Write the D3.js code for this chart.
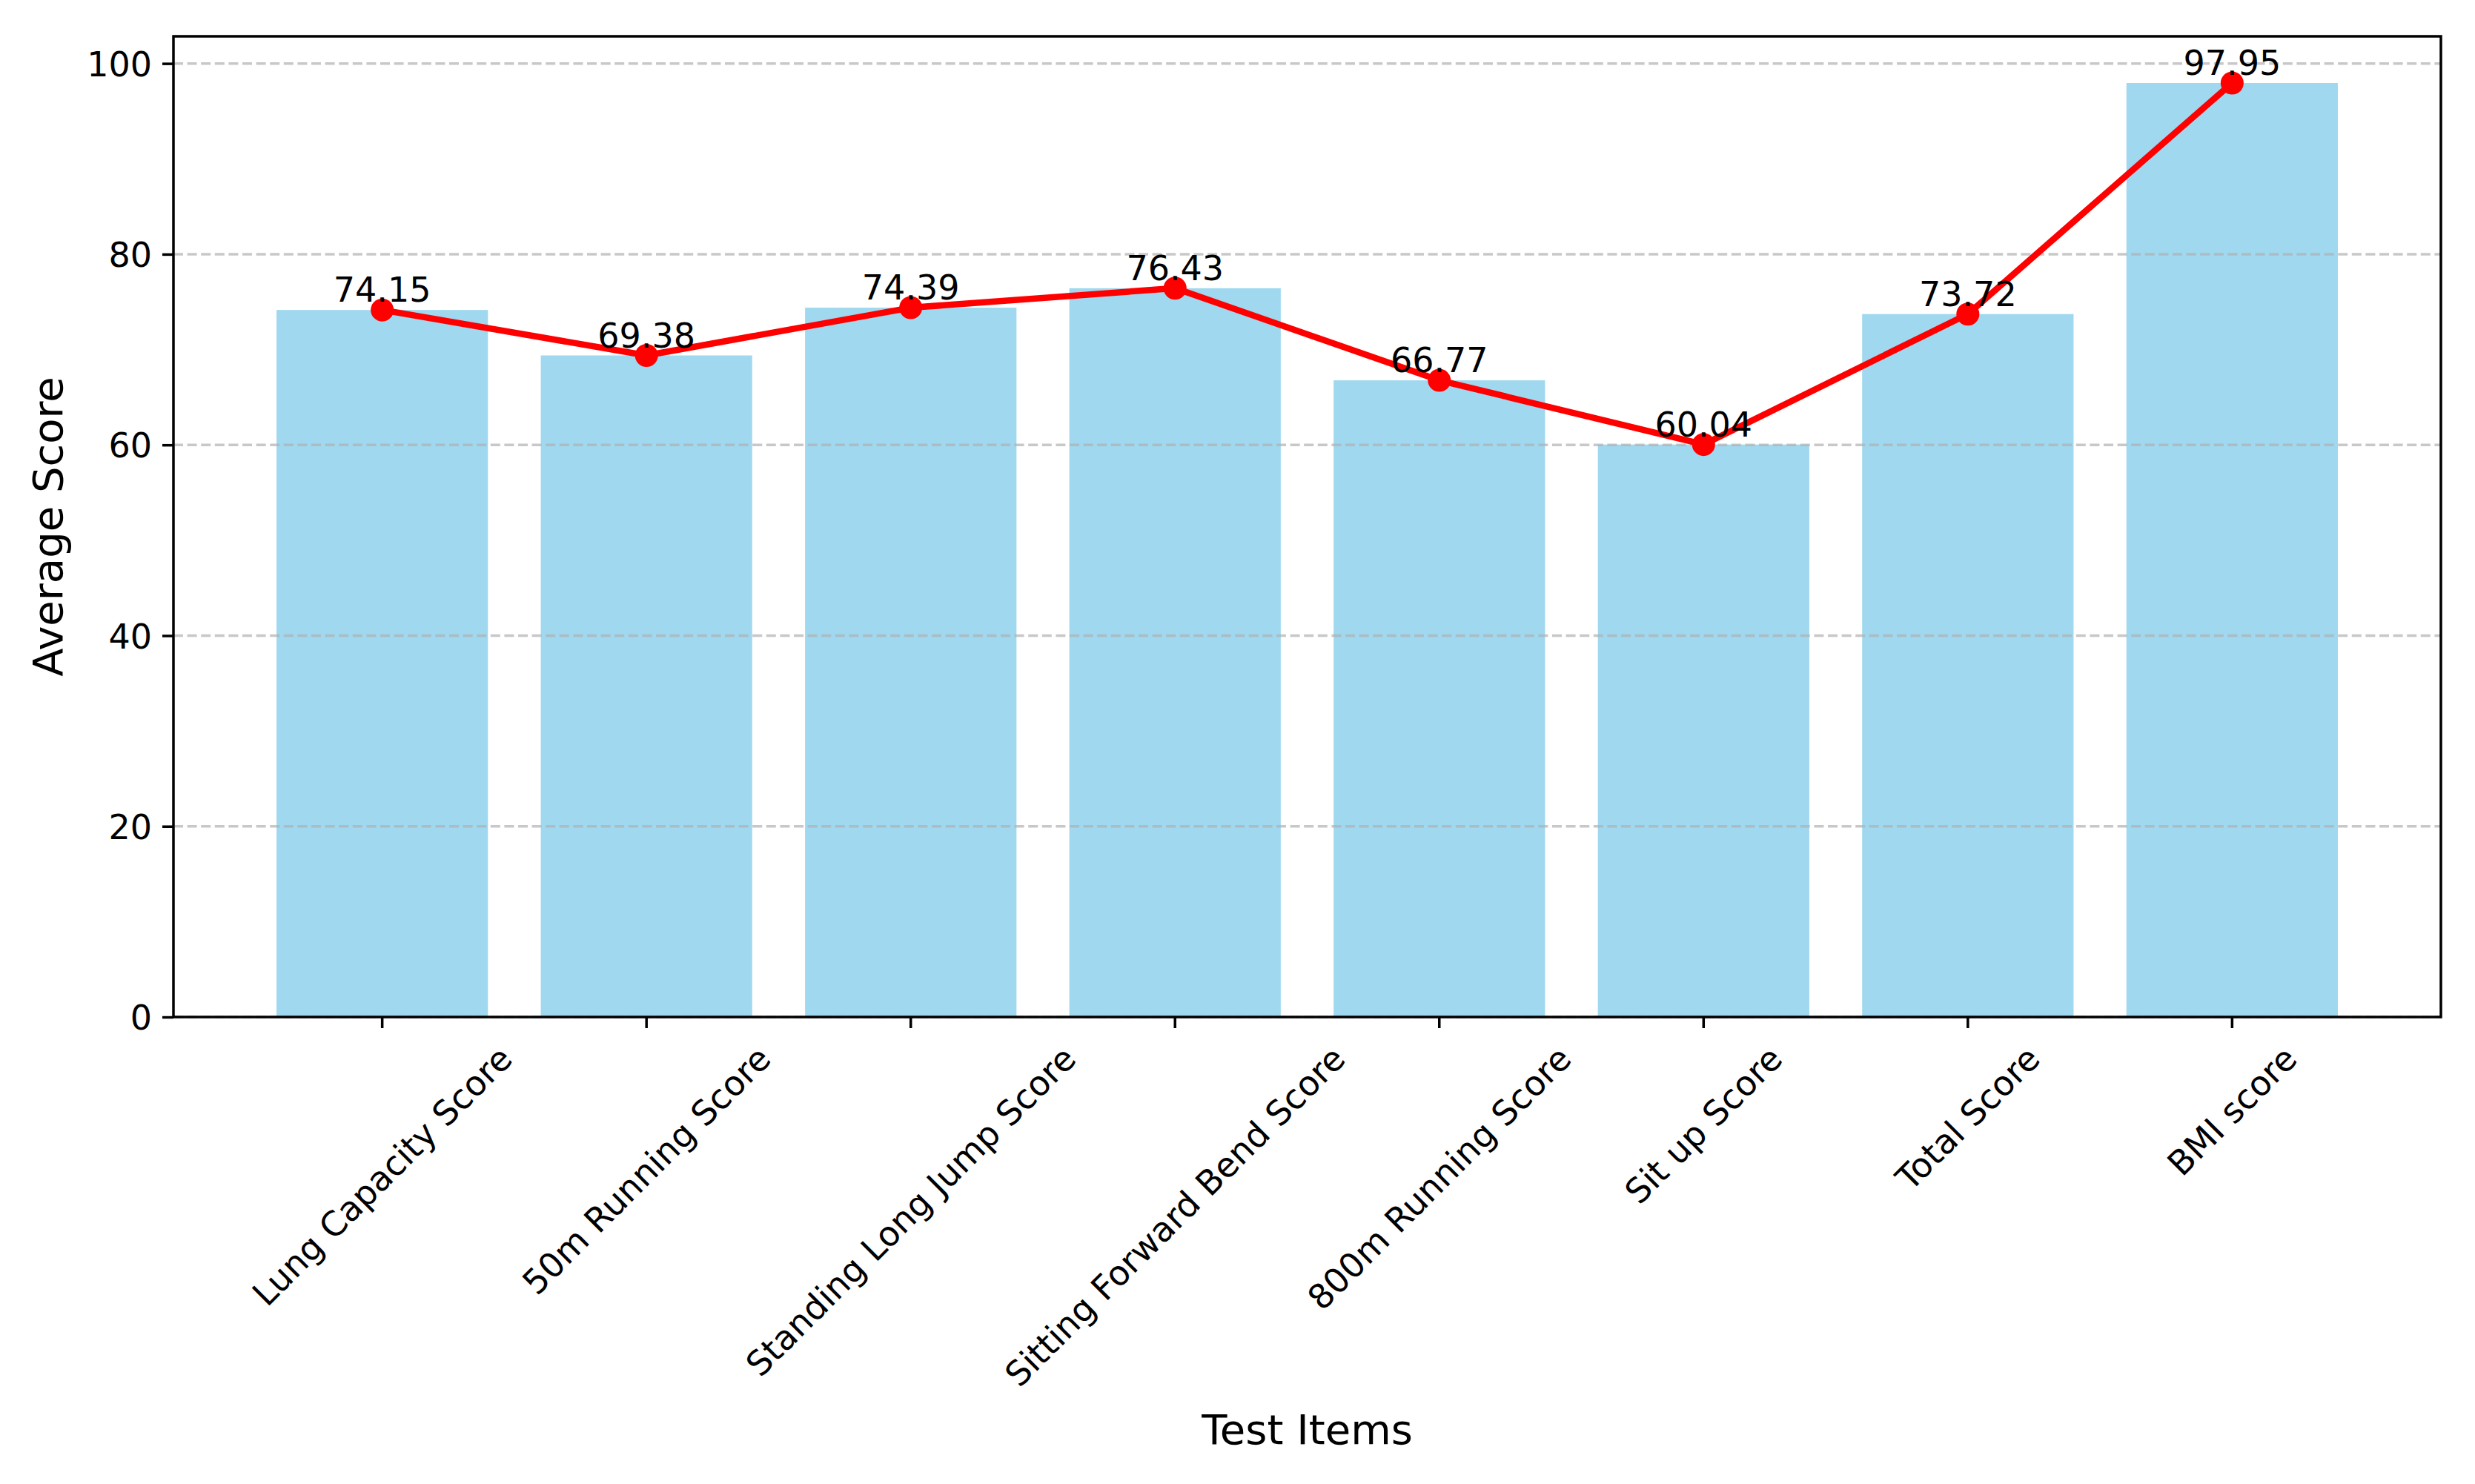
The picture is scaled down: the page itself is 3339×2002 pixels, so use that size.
<!DOCTYPE html>
<html>
<head>
<meta charset="utf-8">
<script src="https://cdn.jsdelivr.net/npm/d3@7"></script>
<style>
  html, body { margin: 0; padding: 0; background: #ffffff; }
  svg { display: block; }
  text { font-family: "DejaVu Sans", sans-serif; fill: #000; }
</style>
</head>
<body>
<svg id="chart" width="3339" height="2002"></svg>
<script>
const categories = [
  "Lung Capacity Score",
  "50m Running Score",
  "Standing Long Jump Score",
  "Sitting Forward Bend Score",
  "800m Running Score",
  "Sit up Score",
  "Total Score",
  "BMI score"
];
const averageScores = [74.15, 69.38, 74.39, 76.43, 66.77, 60.04, 73.72, 97.95];
const yTicks = [0, 20, 40, 60, 80, 100];
const xAxisTitle = "Test Items";
const yAxisTitle = "Average Score";

const W = 3339, H = 2002;
const plot = { left: 234, right: 3293, top: 49, bottom: 1372 };
const tickFont = 46, labelFont = 56;
const tickLen = 15, tickPad = 14, spineW = 3.5;

const svg = d3.select("#chart");
svg.append("rect").attr("width", W).attr("height", H).attr("fill", "#fff");

const x = d3.scaleBand()
  .domain(categories)
  .range([plot.left, plot.right])
  .paddingInner(0.2)
  .paddingOuter(0.39);

const yMax = d3.max(averageScores) * 1.05;
const y = d3.scaleLinear().domain([0, yMax]).range([plot.bottom, plot.top]);

// Bars
svg.append("g").selectAll("rect")
  .data(averageScores)
  .join("rect")
  .attr("x", (d, i) => x(categories[i]))
  .attr("width", x.bandwidth())
  .attr("y", d => y(d))
  .attr("height", d => y(0) - y(d))
  .attr("fill", "#87ceeb")
  .attr("fill-opacity", 0.8);

// Grid (y only, above bars)
svg.append("g").selectAll("line")
  .data(yTicks)
  .join("line")
  .attr("x1", plot.left).attr("x2", plot.right)
  .attr("y1", d => y(d)).attr("y2", d => y(d))
  .attr("stroke", "#b0b0b0")
  .attr("stroke-opacity", 0.7)
  .attr("stroke-width", 3.5)
  .attr("stroke-dasharray", "13,5.6");

// Line + markers
const cx = (d, i) => x(categories[i]) + x.bandwidth() / 2;
const line = d3.line().x(cx).y(d => y(d));
svg.append("path")
  .datum(averageScores)
  .attr("d", line)
  .attr("fill", "none")
  .attr("stroke", "#ff0000")
  .attr("stroke-width", 8.5)
  .attr("stroke-linejoin", "round");

svg.append("g").selectAll("circle")
  .data(averageScores)
  .join("circle")
  .attr("cx", cx)
  .attr("cy", d => y(d))
  .attr("r", 15.5)
  .attr("fill", "#ff0000");

// Value labels
svg.append("g").selectAll("text")
  .data(averageScores)
  .join("text")
  .attr("x", cx)
  .attr("y", d => y(d) - 11)
  .attr("text-anchor", "middle")
  .attr("font-size", tickFont)
  .text(d => d.toFixed(2));

// Y axis ticks and labels
const yAxis = d3.axisLeft(y)
  .tickValues(yTicks)
  .tickFormat(d3.format("d"))
  .tickSize(tickLen)
  .tickPadding(tickPad);
const gy = svg.append("g").attr("transform", `translate(${plot.left},0)`).call(yAxis);
gy.select(".domain").remove();
gy.selectAll(".tick line").attr("stroke", "#000").attr("stroke-width", spineW);
gy.selectAll(".tick text")
  .attr("font-size", tickFont)
  .attr("font-family", "DejaVu Sans, sans-serif")
  .attr("fill", "#000")
  .attr("dy", "0.36em");

// X axis ticks
const xAxis = d3.axisBottom(x).tickSize(tickLen).tickFormat("");
const gx = svg.append("g").attr("transform", `translate(0,${plot.bottom})`).call(xAxis);
gx.select(".domain").remove();
gx.selectAll(".tick line").attr("stroke", "#000").attr("stroke-width", spineW);

// Rotated x labels (centered bbox under tick)
const labelTop = plot.bottom + tickLen + tickPad;
const xl = svg.append("g");
categories.forEach(c => {
  const t = xl.append("text")
    .attr("font-size", tickFont)
    .attr("text-anchor", "middle")
    .attr("dominant-baseline", "central")
    .text(c);
  const L = t.node().getComputedTextLength();
  const h = tickFont * 1.16;
  const half = (L + h) * Math.SQRT1_2 / 2;
  const px = x(c) + x.bandwidth() / 2;
  const py = labelTop + half;
  t.attr("transform", `translate(${px},${py}) rotate(-45)`);
});

// Spines
svg.append("rect")
  .attr("x", plot.left).attr("y", plot.top)
  .attr("width", plot.right - plot.left)
  .attr("height", plot.bottom - plot.top)
  .attr("fill", "none")
  .attr("stroke", "#000")
  .attr("stroke-width", spineW);

// Axis titles
svg.append("text")
  .attr("x", (plot.left + plot.right) / 2)
  .attr("y", 1948)
  .attr("text-anchor", "middle")
  .attr("font-size", labelFont)
  .text(xAxisTitle);

svg.append("text")
  .attr("transform", `translate(84,${(plot.top + plot.bottom) / 2}) rotate(-90)`)
  .attr("text-anchor", "middle")
  .attr("font-size", labelFont)
  .text(yAxisTitle);
</script>
</body>
</html>
